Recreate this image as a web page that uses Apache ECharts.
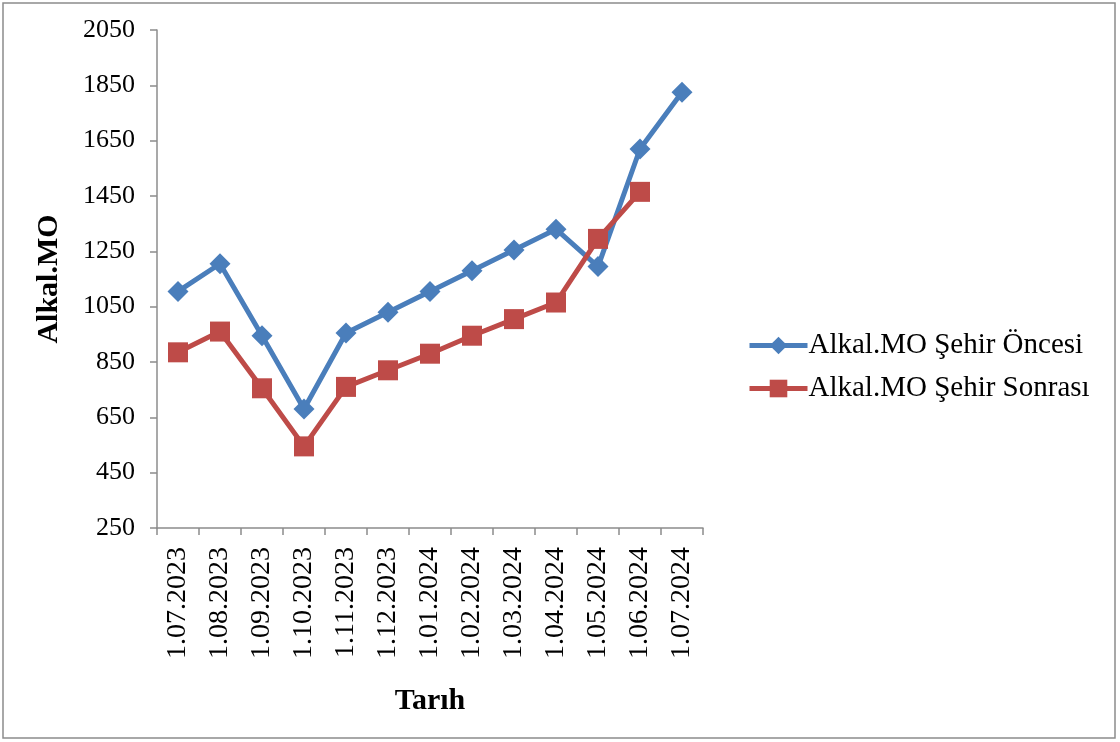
<!DOCTYPE html>
<html>
<head>
<meta charset="utf-8">
<script src="https://cdn.jsdelivr.net/npm/echarts@6/dist/echarts.min.js"></script>
<style>
html,body{margin:0;padding:0;background:#fff;}
#main{width:1120px;height:742px;}
</style>
</head>
<body>
<div id="main"></div>
<script>
const categories = ['1.07.2023','1.08.2023','1.09.2023','1.10.2023','1.11.2023','1.12.2023','1.01.2024','1.02.2024','1.03.2024','1.04.2024','1.05.2024','1.06.2024','1.07.2024'];
const oncesi = [1105,1205,945,680,955,1030,1105,1180,1255,1330,1195,1620,1825];
const sonrasi = [885,960,755,545,760,820,880,945,1005,1065,1295,1465,null];
const seriesNames = ['Alkal.MO Şehir Öncesi','Alkal.MO Şehir Sonrası'];
const yTicks = {min:250, max:2050, interval:200};

const font = '"Liberation Serif", "Times New Roman", serif';
const chart = echarts.init(document.getElementById('main'));
chart.setOption({
  animation:false,
  graphic:[{type:'rect',shape:{x:3,y:3,width:1112,height:735},style:{fill:'none',stroke:'#8c8c8c',lineWidth:1.5},silent:true}],
  grid:{left:157,right:417,top:30,bottom:214},
  legend:{
    orient:'vertical', left:742, top:326, itemGap:14,
    itemWidth:58, itemHeight:22,
    lineStyle:{width:5},
    textStyle:{fontFamily:font,fontSize:29,color:'#000',padding:[0,0,0,-4]},
    data:seriesNames
  },
  xAxis:{
    type:'category', data:categories, boundaryGap:true,
    axisLine:{lineStyle:{color:'#8c8c8c',width:1.5}},
    axisTick:{show:true,length:7,lineStyle:{color:'#8c8c8c',width:1.5}},
    axisLabel:{rotate:90,fontFamily:font,fontSize:28,color:'#000',margin:19,interval:0},
    name:'Tarıh', nameLocation:'middle', nameGap:158,
    nameTextStyle:{fontFamily:font,fontSize:30,fontWeight:'bold',color:'#000'}
  },
  yAxis:{
    type:'value', min:yTicks.min, max:yTicks.max, interval:yTicks.interval,
    splitLine:{show:false},
    axisLine:{show:true,lineStyle:{color:'#8c8c8c',width:1.5}},
    axisTick:{show:true,length:7,lineStyle:{color:'#8c8c8c',width:1.5}},
    axisLabel:{fontFamily:font,fontSize:26,color:'#000',margin:22,formatter:function(v){return String(v);}},
    name:'Alkal.MO', nameLocation:'middle', nameGap:93,
    nameTextStyle:{fontFamily:font,fontSize:30,fontWeight:'bold',color:'#000'}
  },
  series:[
    {name:seriesNames[0],type:'line',data:oncesi,symbol:'diamond',symbolSize:21,
     lineStyle:{color:'#4a7ebb',width:5},itemStyle:{color:'#4a7ebb'}},
    {name:seriesNames[1],type:'line',data:sonrasi,symbol:'rect',symbolSize:20,
     lineStyle:{color:'#be4b48',width:5},itemStyle:{color:'#be4b48'}}
  ]
});
</script>
</body>
</html>
